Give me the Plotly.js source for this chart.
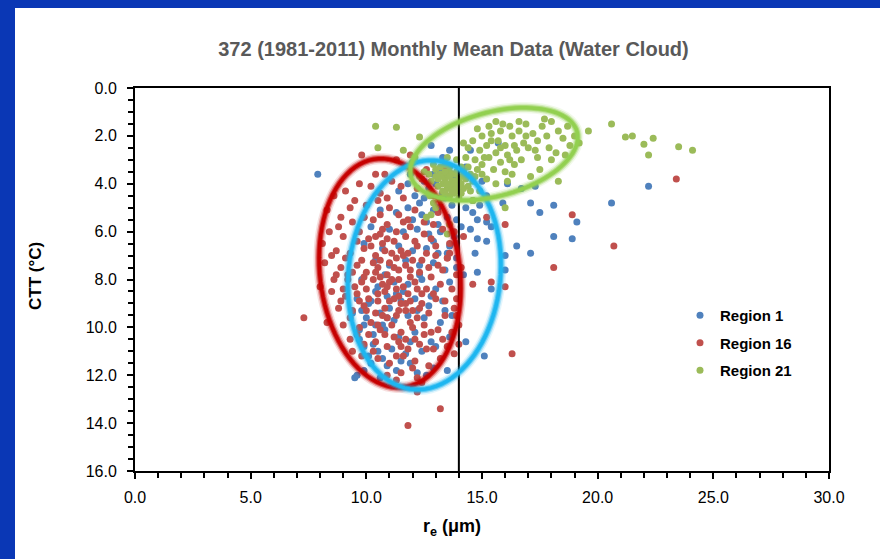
<!DOCTYPE html>
<html>
<head>
<meta charset="utf-8">
<script src="https://cdn.plot.ly/plotly-3.0.1.min.js"></script>
<style>
  html, body { margin:0; padding:0; width:880px; height:559px; overflow:hidden; background:#0a37b5; }
  #chart { position:absolute; left:15px; top:8px; width:865px; height:551px; background:#ffffff; }
</style>
</head>
<body>
<div id="chart"></div>
<script>
// ---------------- DATA ----------------
const chartTitle = "372 (1981-2011) Monthly Mean Data (Water Cloud)";
const seriesNames = ["Region 1", "Region 16", "Region 21"];
const xTickValues = [0, 5, 10, 15, 20, 25, 30];
const yTickValues = [0, 2, 4, 6, 8, 10, 12, 14, 16];
const thresholdRe = 14.0;

// Region 1 (blue): [re (um), CTT (C)]
const region1 = [
 [12.8,2.4],[13.3,2.9],[14.5,2.6],[15.7,2.3],[7.9,3.6],[11.9,3.6],[12.5,3.9],[13.2,3.5],[13.8,3.8],[14.3,3.3],
 [15.0,3.9],[16.1,4.0],[16.7,4.2],[17.3,4.1],[11.4,4.3],[12.1,4.5],[12.7,4.2],[13.4,4.6],[14.0,4.3],[14.6,4.7],
 [15.2,4.5],[15.9,4.8],[17.1,4.8],[18.1,4.9],[17.5,5.2],[22.2,4.1],[20.6,4.8],
 [10.6,5.1],[11.3,5.2],[11.8,5.0],[12.4,5.3],[12.9,5.1],[13.5,5.4],[14.3,5.0],[14.6,5.2],[14.8,5.5],[15.2,5.6],
 [15.4,5.8],[19.1,5.6],[18.9,6.3],[18.1,6.2],[10.2,5.8],[11.0,5.9],[11.6,6.0],[12.2,5.9],[12.7,6.1],[13.2,6.0],
 [13.8,6.2],[14.8,6.3],[15.2,6.4],[16.5,6.6],[17.1,6.9],[16.0,7.0],[9.9,6.5],[10.7,6.7],[11.4,6.6],[12.0,6.8],
 [12.6,6.7],[13.1,6.9],[13.6,6.6],[13.9,7.1],[14.8,7.7],[16.0,7.6],[10.4,7.2],[11.0,7.4],[11.7,7.2],[12.3,7.4],
 [12.9,7.3],[13.4,7.6],[13.9,7.5],
 [9.8,8.0],[10.5,8.3],[11.2,8.1],[11.8,8.2],[12.4,8.0],[13.0,8.4],[13.6,8.1],[15.4,8.4],[9.6,8.8],[10.2,8.9],
 [10.9,8.7],[11.5,8.9],[12.1,8.8],[12.7,9.1],[13.3,8.9],[9.4,9.4],[10.0,9.6],[10.6,9.4],[11.2,9.7],[11.8,9.5],
 [12.5,9.6],[13.7,9.5],[9.7,10.1],[10.3,10.3],[10.8,10.1],[11.4,10.4],[12.1,10.2],[12.8,10.6],[13.6,10.4],[9.9,10.8],
 [10.5,11.0],[11.1,10.9],[11.7,11.1],[12.4,11.0],[10.2,11.5],[10.9,11.6],[11.5,11.4],[12.9,11.7],[9.5,12.1],[9.6,12.0],
 [15.1,11.2],[13.5,11.8],[12.2,11.9],
 [10.4,8.5],[11.0,9.2],[10.1,9.0],[10.7,9.9],[9.9,9.9],[10.3,10.7],[9.7,10.5],[12.6,5.6],[13.1,5.7],[12.0,5.5],
 [13.7,4.9],[14.1,5.8],[13.0,4.0],[12.3,4.8],[14.7,6.9],[10.8,7.8],[11.3,8.6],[12.2,9.3],[13.2,9.8],[11.9,10.6],
 [12.5,4.6],[13.1,5.0],[13.9,5.5],[12.9,6.4],[13.5,6.9],[12.3,7.8],[12.8,8.7],[13.4,9.3],[11.6,8.5],[10.9,9.6],
 [10.4,9.9],[9.8,9.3],[10.1,11.2],[10.7,11.3],[11.3,11.8],[11.9,11.5],[12.6,12.0],[9.9,11.8],[13.9,6.5],[14.5,5.9],
 [14.9,4.9],[13.3,4.4],[11.8,4.0],[12.9,3.6],[14.2,7.8],[13.0,10.8],[10.6,12.1],[14.3,10.6],[12.0,3.1],[13.6,2.6]
];

// Region 16 (red)
const region16 = [
 [9.8,2.8],[11.3,3.0],[11.9,2.8],[10.4,3.6],[10.8,3.6],[9.7,4.0],[10.2,4.1],[11.1,3.9],[12.6,3.4],[13.4,3.3],
 [12.2,4.2],[9.1,4.3],[8.6,4.5],[10.6,4.4],[11.6,4.6],[12.9,4.5],[9.5,4.7],[10.0,4.9],[11.0,5.0],[12.1,5.1],
 [13.1,5.2],[8.3,5.1],
 [8.9,5.4],[9.4,5.6],[10.3,5.5],[10.9,5.7],[11.4,5.3],[11.9,5.8],[12.5,5.6],[13.3,5.9],[8.4,6.0],[9.0,6.2],
 [9.7,6.0],[10.1,6.3],[10.6,6.1],[11.2,6.4],[11.7,6.2],[12.2,6.6],[12.8,6.3],[13.6,6.5],[8.7,6.8],[9.3,6.9],
 [9.9,6.7],[10.4,7.0],[10.8,6.8],[11.3,7.1],[11.8,6.9],[12.4,7.2],[13.0,7.0],[13.5,7.1],[14.1,7.5],[8.2,7.3],
 [8.9,7.5],[9.6,7.4],[10.0,7.7],[10.5,7.5],[10.9,7.8],[11.4,7.6],[11.9,7.9],[12.3,7.7],[12.8,7.9],[13.9,7.8],
 [9.2,8.0],[9.8,8.1],[10.3,8.0],[10.7,8.2],[11.1,8.0],[11.6,8.3],[12.1,8.1],[12.6,8.4],[13.2,8.2],[14.6,8.2],
 [15.4,8.1],[16.0,8.3],
 [8.5,8.5],[9.1,8.7],[9.6,8.6],[10.1,8.8],[10.5,8.6],[11.0,8.9],[11.4,8.7],[11.9,8.9],[12.4,9.0],[13.0,8.8],
 [13.9,8.8],[8.8,9.2],[9.4,9.3],[9.9,9.1],[10.4,9.4],[10.8,9.2],[11.3,9.5],[11.7,9.3],[12.2,9.6],[12.7,9.4],
 [13.4,9.5],[7.3,9.6],[8.3,9.8],[9.0,9.9],[9.7,10.0],[10.2,9.8],[10.6,10.1],[11.1,9.9],[11.5,10.2],[12.0,10.0],
 [12.5,10.3],[13.1,10.1],[13.7,10.2],[9.3,10.5],[9.9,10.7],[10.4,10.6],[10.9,10.8],[11.4,10.6],[11.8,10.9],[12.3,10.7],
 [12.9,10.9],[13.5,10.8],[14.0,10.7],
 [9.8,11.2],[10.5,11.3],[11.0,11.5],[11.6,11.2],[12.1,11.4],[12.7,11.6],[13.2,11.3],[10.9,12.0],[11.5,11.9],[12.2,12.1],
 [12.2,12.7],[13.2,13.4],[11.8,14.1],[16.3,11.1],
 [10.2,6.6],[10.7,6.5],[11.0,7.3],[11.5,6.8],[11.2,7.5],[10.6,7.9],[11.7,7.4],[12.0,7.2],[10.3,7.3],[10.8,8.5],
 [11.3,8.4],[11.8,8.6],[10.0,8.4],[11.0,8.1],[12.4,8.6],[10.9,9.6],[11.5,9.0],[12.0,9.3],[10.5,9.9],[11.2,10.4],
 [10.1,10.3],[11.7,10.5],[12.5,9.9],[9.5,8.3],[9.8,7.2],[12.7,7.5],[13.3,7.6],[13.8,9.2],[14.0,9.9],[13.6,6.9],
 [14.2,6.2],[15.2,5.4],[16.0,5.7],[18.9,5.3],[20.7,6.6],[23.4,3.8],[18.1,7.5],[13.5,7.1],
 [9.3,5.0],[8.8,5.8],[8.5,7.0],[8.6,8.0],[8.9,8.9],[9.2,7.8],[10.6,5.3],[11.6,5.6],[12.9,5.7],[13.8,6.0],
 [10.4,6.2],[10.9,6.3],[11.3,6.0],[11.1,6.9],[10.6,7.2],[11.6,7.0],[11.9,7.6],[11.4,8.0],[10.9,8.3],[10.5,8.9],
 [11.2,8.8],[11.7,9.0],[12.3,9.2],[10.7,9.5],[11.4,9.3],[11.9,9.8],[10.8,10.3],[11.5,10.8],[12.1,10.5],[12.8,10.2],
 [10.0,9.3],[9.7,8.9],[9.4,7.7],[9.9,7.9],[10.4,7.7],[12.2,8.4],[12.9,8.6],[13.4,8.9],[12.6,6.9],[12.1,6.4],
 [11.8,5.5],[10.7,5.9],[9.9,5.4],[9.6,6.4],[9.1,7.1],[8.7,7.8],[9.0,8.4],[9.3,9.6],[9.6,10.3],[10.3,11.0],
 [11.3,11.2],[12.0,11.7],[12.6,10.9],[13.3,10.5],[13.9,9.5],[13.7,8.4],[13.1,7.4],[12.5,6.1],[10.5,4.7],[11.5,4.1],
 [12.4,3.8],[10.9,4.6],[9.9,5.4],[8.1,6.5],[8.0,8.3],[9.4,11.0],[13.8,11.1],[12.4,12.3],[11.3,12.2],[13.0,6.6]
];

// Region 21 (green)
const region21 = [
 [13.0,3.4],[13.2,3.6],[13.4,3.8],[13.6,3.5],[13.8,3.9],[14.0,3.7],[13.3,4.0],[13.5,4.2],[13.7,4.1],[13.9,4.3],
 [14.1,4.0],[14.3,3.8],[14.5,3.6],[12.8,3.9],[13.1,4.1],[13.6,3.3],[14.2,4.2],[14.4,4.1],[13.8,3.6],[13.4,3.2],
 [12.9,3.2],[12.5,3.5],[12.3,3.7],[12.7,4.4],[13.2,4.6],[13.6,4.5],[14.0,4.6],[14.6,3.9],[14.8,3.4],[14.1,3.3],
 [13.9,3.0],[13.5,2.9],[14.3,2.9],[12.9,4.8],[11.6,2.6],[12.1,2.9],[13.0,5.0],[12.8,5.3],
 [14.7,3.0],[15.0,3.2],[15.3,2.9],[14.9,2.6],[15.2,2.4],[15.6,2.7],[15.8,3.1],[16.1,2.8],[15.5,3.4],[16.0,3.5],
 [16.4,3.2],[14.6,2.2],[15.0,2.0],[15.4,1.9],[15.7,2.2],[16.0,2.4],[16.3,2.0],[16.5,2.6],[16.8,2.3],[14.8,1.7],
 [15.3,1.6],[15.8,1.8],[16.2,1.6],[16.6,1.8],[16.9,1.5],[17.2,1.9],[17.0,2.5],[17.4,2.2],[17.6,1.6],[17.8,2.0],
 [18.0,1.4],[18.3,1.8],[18.5,2.1],[18.7,1.6],[19.0,2.0],[19.2,2.3],[18.8,2.4],[17.4,2.9],[16.7,3.0],[18.2,2.7],
 [17.1,3.7],[18.3,3.9],[16.1,3.9],[15.6,4.0],[14.9,4.3],[14.6,4.7],[15.8,2.5],[16.4,2.4],[15.1,2.9],[14.4,2.5],
 [10.4,1.6],[11.3,1.64],[10.5,2.5],[12.3,2.05],[19.6,1.8],[20.6,1.5],[21.2,2.05],[21.5,2.0],[22.0,2.35],[22.4,2.1],
 [22.2,2.8],[23.5,2.45],[24.1,2.6],[12.75,4.5],[13.5,6.1],[12.6,5.4],[16.0,5.0],[13.6,5.7],
 [13.3,3.7],[13.7,3.9],[14.0,4.1],[13.5,3.6],[13.9,3.5],[14.2,3.5],[13.1,3.8],[13.8,4.4],[14.4,3.3],[15.4,2.2],
 [16.2,3.0],[17.3,2.6],[15.9,1.5],[17.9,2.5],[14.2,2.3],
 [13.2,3.3],[13.4,3.5],[13.6,3.7],[13.8,4.0],[14.0,3.9],[13.3,4.3],[13.5,4.0],[13.7,4.3],[13.9,4.1],[14.2,3.7],
 [13.0,3.7],[12.7,3.6],[13.4,4.4],[14.1,4.4],[14.5,4.3],[15.0,3.6],[15.2,3.8],[14.7,3.7],[16.3,3.6],[17.5,3.4],
 [18.0,3.0],[18.6,2.8],[16.9,2.0],[16.6,1.4],[17.7,1.3],[15.6,1.4]
];

// ---------------- CHART ----------------
const W = 865, H = 551;
const M = {l:120, r:51, t:80, b:88};
const xRange = [0, 30], yRange = [16, 0];
const plotW = W - M.l - M.r, plotH = H - M.t - M.b;
const kx = plotW / (xRange[1]-xRange[0]);
const ky = plotH / (yRange[0]-yRange[1]);

function ellipsePath(cx, cy, aPx, bPx, phiDeg) {
  const phi = phiDeg * Math.PI / 180;
  let d = "";
  const n = 90;
  for (let i = 0; i <= n; i++) {
    const t = 2*Math.PI*i/n;
    const xp = aPx*Math.cos(t), yp = bPx*Math.sin(t);
    const dx = xp*Math.cos(phi) - yp*Math.sin(phi);
    const dy = xp*Math.sin(phi) + yp*Math.cos(phi);
    const X = cx + dx/kx, Y = cy + dy/ky;
    d += (i === 0 ? "M" : "L") + X.toFixed(4) + "," + Y.toFixed(4);
  }
  return d + "Z";
}

function glowEllipse(path, color) {
  const layers = [[11, 0.12], [8, 0.3], [5.5, 0.6], [3.5, 1]];
  return layers.map(([w, op]) => ({
    type:"path", xref:"x", yref:"y", path:path, layer:"above",
    line:{color:color, width:w}, opacity:op
  }));
}

const redEllipse = ellipsePath(11.02, 7.73, 70, 115, -7);
const cyanEllipse = ellipsePath(12.51, 7.81, 76, 115, 6);
const greenEllipse = ellipsePath(15.52, 2.76, 86, 42, -15);

const colors = ["#4f81bd", "#c0504d", "#9bbb59"];
const seriesData = [region1, region16, region21];

const traces = seriesData.map((s, i) => ({
  type:"scatter", mode:"markers", name:seriesNames[i],
  x:s.map(p => p[0]), y:s.map(p => p[1]),
  legendgroup:"g"+i,
  marker:{color:colors[i], size:7, line:{width:0}},
  hoverinfo:"x+y"
}));

const shapes = [].concat(
  [{type:"line", xref:"x", yref:"y", x0:thresholdRe, x1:thresholdRe, y0:yRange[0], y1:yRange[1],
    line:{color:"#000", width:2}, layer:"above"}],
  glowEllipse(redEllipse, "#c60000"),
  glowEllipse(cyanEllipse, "#1db6f0"),
  glowEllipse(greenEllipse, "#92d050")
);

const FONT = "Liberation Sans, Arial, sans-serif";

const layout = {
  width:W, height:H,
  margin:M,
  paper_bgcolor:"#ffffff", plot_bgcolor:"#ffffff",
  showlegend:true,
  title:{text:"<b>"+chartTitle+"</b>", font:{family:FONT, size:20, color:"#595959"},
         x:(453.5-15)/W, xanchor:"center", y:1-41/H, yanchor:"middle", yref:"container", xref:"container"},
  xaxis:{range:xRange, tickvals:xTickValues, ticktext:xTickValues.map(v=>v.toFixed(1)),
         showgrid:false, zeroline:false, showline:true, linecolor:"#000", linewidth:2, mirror:true,
         ticks:"outside", ticklen:6, tickwidth:2, tickcolor:"#000", ticklabelstandoff:5,
         minor:{dtick:1, tick0:0, ticks:"outside", ticklen:5, tickwidth:2, tickcolor:"#000", showgrid:false},
         tickfont:{family:FONT, size:16, color:"#000"}, fixedrange:true},
  yaxis:{range:yRange, tickvals:yTickValues, ticktext:yTickValues.map(v=>v.toFixed(1)),
         showgrid:false, zeroline:false, showline:true, linecolor:"#000", linewidth:2, mirror:true,
         ticks:"outside", ticklen:6, tickwidth:2, tickcolor:"#000", ticklabelstandoff:7,
         minor:{dtick:0.5, tick0:0, ticks:"outside", ticklen:5, tickwidth:2, tickcolor:"#000", showgrid:false},
         tickfont:{family:FONT, size:16, color:"#000"}, fixedrange:true},
  legend:{x:(680-135)/694, y:(471-299)/383, xanchor:"left", yanchor:"top",
          font:{family:FONT, size:15, color:"#000", weight:"bold"},
          bgcolor:"rgba(0,0,0,0)", traceorder:"grouped", tracegroupgap:5,
          itemwidth:30},
  shapes:shapes,
  annotations:[
    {text:"<b>CTT (°C)</b>", xref:"paper", yref:"paper", x:(35-135)/plotW, y:(471-276)/plotH,
     xanchor:"center", yanchor:"middle", textangle:-90, showarrow:false,
     font:{family:FONT, size:17, color:"#000"}},
    {text:"<b>r<sub>e</sub> (μm)</b>", xref:"paper", yref:"paper", x:(452-135)/plotW, y:-(527-471)/plotH,
     xanchor:"center", yanchor:"middle", showarrow:false,
     font:{family:FONT, size:18, color:"#000"}}
  ]
};

Plotly.newPlot("chart", traces, layout, {displayModeBar:false, staticPlot:true});
</script>
</body>
</html>
